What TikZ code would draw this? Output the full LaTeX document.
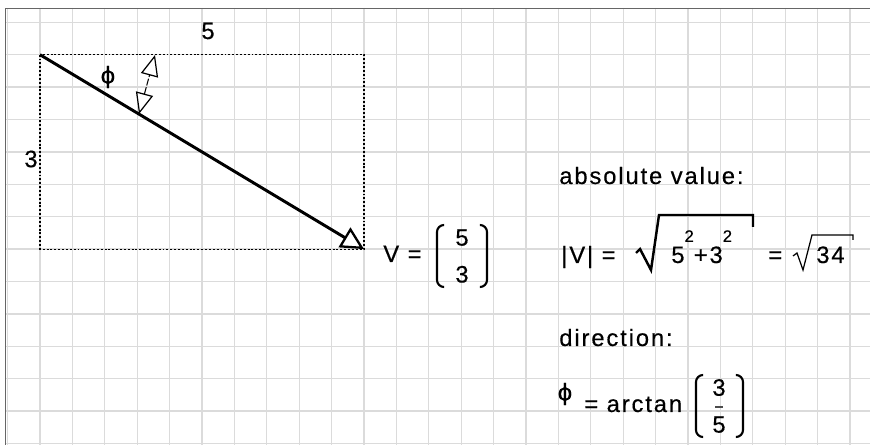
\documentclass[tikz,border=0pt]{standalone}
\usepackage{fontspec}
\setmainfont{Liberation Sans}[LetterSpace=8, FakeBold=0.4]
\newfontfamily\phifont{DejaVu Sans}[FakeBold=0.3]
\usetikzlibrary{arrows.meta, positioning, calc}

\begin{document}
\begin{tikzpicture}[
    x=0.02cm, y=-0.02cm,
    gridline/.style={draw=black!14, line width=0.7pt},
    frame/.style={draw=black!60, line width=0.9pt},
    guide/.style={draw=black, line width=0.6pt, dash pattern=on 1.1pt off 1.1pt},
    vec/.style={draw=black, line width=1.7pt,
                -{Triangle[open, length=13pt, width=13pt, line width=1.3pt]}},
    angarr/.style={draw=black, line width=0.6pt, dash pattern=on 4pt off 1pt,
                   {Triangle[open, length=12pt, width=10pt, line width=0.7pt]}-{Triangle[open, length=12pt, width=10pt, line width=0.7pt]}},
    paren/.style={draw=black, line width=1.2pt, rounded corners=4pt},
    root/.style={draw=black, line width=1.4pt, line join=miter},
    thinroot/.style={draw=black, line width=0.7pt},
    fracbar/.style={draw=black!70, line width=0.6pt},
    txt/.style={font=\fontsize{13.5}{21}\selectfont, text=black, inner sep=0pt},
    phitxt/.style={font=\phifont\fontsize{13}{13}\selectfont, text=black, inner sep=0pt}
  ]
    \useasboundingbox (0,0) rectangle (870,445);
    \fill[white] (0,0) rectangle (870,445);

    % Grid
    \foreach \i in {-1,...,25}
      \draw[gridline] ({40+32.4*\i},8) -- ({40+32.4*\i},445);
    \foreach \j in {0,...,13}
      \draw[gridline] (5,{22.3+32.4*\j}) -- (870,{22.3+32.4*\j});

    % Frame
    \draw[frame] (5.5,445) -- (5.5,8.5) -- (870,8.5);

    % Vector and its box
    \coordinate (O) at (40,54.7);
    \coordinate (P) at (364,249.1);
    \draw[guide] (O) rectangle (P);
    \draw[vec] (O) -- (P);

    % Angle
    \coordinate (a1) at (155,55);
    \coordinate (a2) at (139,114);
    \draw[angarr] (a2) -- (a1);

    % Side labels
    \node[txt] (five) at (208,31) {5};
    \node[txt] (three) at (31,159) {3};
    \node[phitxt] (phi) at (108,77) {ϕ};

    % Components
    \node[txt, anchor=base west] (vname) at (383,262) {V =};
    \node[txt, align=center] (vcomp) at (462,256) {5\\3};
    \draw[paren] ($(vcomp)+(-18,-31)$) -- ++(-7,0) -- ++(0,62) -- ++(7,0);
    \draw[paren] ($(vcomp)+(18,-31)$) -- ++(7,0) -- ++(0,62) -- ++(-7,0);

    % Absolute value
    \node[txt, anchor=base west] (absl) at (559,184) {absolute value:};
    \node[txt, anchor=base west] (modv) at (561,263) {|V| =};
    \node[txt, anchor=base west] (rad) at (671,263)
      {5\raisebox{12pt}{\fontsize{9.5}{10}\selectfont 2}+3\raisebox{12pt}{\fontsize{9.5}{10}\selectfont 2}};
    \draw[root] (636,253) -- (640,249) -- (651,270) -- (659,215) -- (753,215) -- (753,227);
    \node[txt, anchor=base west] (eqb) at (768,263) {=};
    \node[txt, anchor=base west] (r34) at (816,263) {34};
    \draw[thinroot] (793,256) -- (797,253) -- (803,270) -- (812,235) -- (853,235) -- (853,240);

    % Direction
    \node[txt, anchor=base west] (dirl) at (559,346) {direction:};
    \node[phitxt] (phib) at (565,394) {ϕ};
    \node[txt, anchor=base west] (arct) at (584,412) {= arctan};
    \node[txt, align=center] (frac) at (719,406) {3\\5};
    \draw[fracbar] ($(frac)+(-4,1)$) -- ($(frac)+(4,1)$);
    \draw[paren] ($(frac)+(-16,-31)$) -- ++(-7,0) -- ++(0,62) -- ++(7,0);
    \draw[paren] ($(frac)+(17,-31)$) -- ++(7,0) -- ++(0,62) -- ++(-7,0);

  \end{tikzpicture}
\end{document}
